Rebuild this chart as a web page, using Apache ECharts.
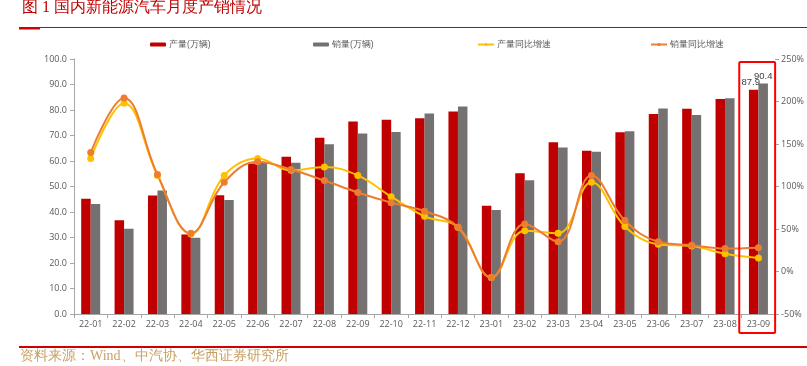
<!DOCTYPE html>
<html>
<head>
<meta charset="utf-8">
<script src="https://cdn.jsdelivr.net/npm/echarts@6/dist/echarts.min.js"></script>
<style>
  html, body { margin: 0; padding: 0; background: #fff; }
  #main { width: 807px; height: 366px; }
</style>
</head>
<body>
<div id="main"></div>
<script>
// 月份
var months = ['22-01','22-02','22-03','22-04','22-05','22-06','22-07','22-08','22-09','22-10','22-11','22-12',
              '23-01','23-02','23-03','23-04','23-05','23-06','23-07','23-08','23-09'];
// 产量、销量（万辆）
var production = [45.2, 36.8, 46.5, 31.2, 46.6, 59.0, 61.7, 69.1, 75.5, 76.2, 76.8, 79.4,
                  42.5, 55.2, 67.4, 64.0, 71.3, 78.4, 80.5, 84.3, 87.9];
var sales = [43.1, 33.4, 48.4, 29.9, 44.7, 59.6, 59.3, 66.6, 70.8, 71.4, 78.6, 81.4,
             40.8, 52.5, 65.3, 63.6, 71.7, 80.6, 78.0, 84.6, 90.4];
// 同比增速（%）
var prodYoy = [133, 198, 113, 44, 113, 133, 119, 123, 113, 88, 65, 52,
               -7, 48, 45, 105, 53, 32, 30, 21, 16];
var salesYoy = [140, 204, 114, 45, 105, 129, 120, 107, 93, 81, 71, 52,
                -7, 56, 35, 113, 60, 35, 31, 27, 28];

var chart = echarts.init(document.getElementById('main'));
var lastIdx = months.length - 1;
var labelFont = { fontSize: 9, color: '#595959', fontFamily: 'Open Sans, sans-serif' };

function legendAt(name, x) {
    return {
        data: [name],
        left: x,
        top: 35,
        itemWidth: 16,
        itemHeight: 4,
        itemGap: 4,
        textStyle: { fontSize: 8.5, color: '#595959', padding: [0, 0, 0, -2] }
    };
}

// 只给最后一个柱子加数值标签
function lastLabel(arr, dx) {
    return arr.map(function (v, i) {
        if (i !== lastIdx) return v;
        return { value: v, label: { show: true, position: 'top', distance: 2, offset: [dx, 0],
                                    fontSize: 9.5, color: '#404040' } };
    });
}

var option = {
    animation: false,
    legend: [
        legendAt('产量(万辆)', 145),
        legendAt('销量(万辆)', 308),
        legendAt('产量同比增速', 472),
        legendAt('销量同比增速', 645)
    ],
    grid: { left: 74, right: 27, top: 59, bottom: 52 },
    xAxis: {
        type: 'category',
        data: months,
        axisLine: { lineStyle: { color: '#a6a6a6' } },
        axisTick: { show: true, length: 4, lineStyle: { color: '#a6a6a6' } },
        axisLabel: Object.assign({ margin: 6, interval: 0 }, labelFont)
    },
    yAxis: [
        {
            type: 'value', min: 0, max: 100, interval: 10,
            axisLine: { show: true, lineStyle: { color: '#a6a6a6' } },
            axisTick: { show: true, length: 4, lineStyle: { color: '#a6a6a6' } },
            splitLine: { show: false },
            axisLabel: Object.assign({ margin: 7, formatter: function (v) { return v.toFixed(1); } }, labelFont)
        },
        {
            type: 'value', min: -50, max: 250, interval: 50,
            axisLine: { show: false },
            axisTick: { show: true, length: 4, lineStyle: { color: '#a6a6a6' } },
            splitLine: { show: false },
            axisLabel: Object.assign({ margin: 6, formatter: '{value}%' }, labelFont)
        }
    ],
    series: [
        {
            name: '产量(万辆)', type: 'bar', data: lastLabel(production, -3),
            barWidth: 9.5, barGap: '0%',
            itemStyle: { color: '#C00000' }
        },
        {
            name: '销量(万辆)', type: 'bar', data: lastLabel(sales, 0),
            barWidth: 9.5, barGap: '0%',
            itemStyle: { color: '#767171' }
        },
        {
            name: '产量同比增速', type: 'line', yAxisIndex: 1, data: prodYoy,
            smooth: 0.4, symbol: 'circle', symbolSize: 7,
            lineStyle: { width: 2, color: '#FFC000' },
            itemStyle: { color: '#FFC000' }
        },
        {
            name: '销量同比增速', type: 'line', yAxisIndex: 1, data: salesYoy,
            smooth: 0.4, symbol: 'circle', symbolSize: 7,
            lineStyle: { width: 2, color: '#ED7D31' },
            itemStyle: { color: '#ED7D31' }
        }
    ]
};
chart.setOption(option);

// 标题、分隔线、资料来源、23-09 红框
var cx = chart.convertToPixel({ xAxisIndex: 0 }, months[lastIdx]);
var cx0 = chart.convertToPixel({ xAxisIndex: 0 }, months[lastIdx - 1]);
var half = (cx - cx0) / 2;
chart.setOption({
    graphic: [
        { type: 'text', left: 22, top: 0,
          style: { text: '图 1 国内新能源汽车月度产销情况', fontSize: 16, fill: '#c00000',
                   fontFamily: 'serif' } },
        { type: 'rect', shape: { x: 19, y: 27, width: 788, height: 1 }, style: { fill: '#d00000' } },
        { type: 'rect', shape: { x: 19, y: 27, width: 21, height: 2.5 }, style: { fill: '#d00000' } },
        { type: 'rect', shape: { x: 19, y: 346, width: 788, height: 2 }, style: { fill: '#d00000' } },
        { type: 'text', left: 20, top: 349,
          style: { text: '资料来源：Wind、中汽协、华西证券研究所', fontSize: 14, fill: '#c9a063',
                   fontFamily: 'serif' } },
        { type: 'rect', z: 100,
          shape: { x: cx - half - 2.5, y: 62, width: half * 2 + 2.5, height: 271, r: 1 },
          style: { fill: 'none', stroke: '#ff0000', lineWidth: 2 } }
    ]
});
</script>
</body>
</html>
